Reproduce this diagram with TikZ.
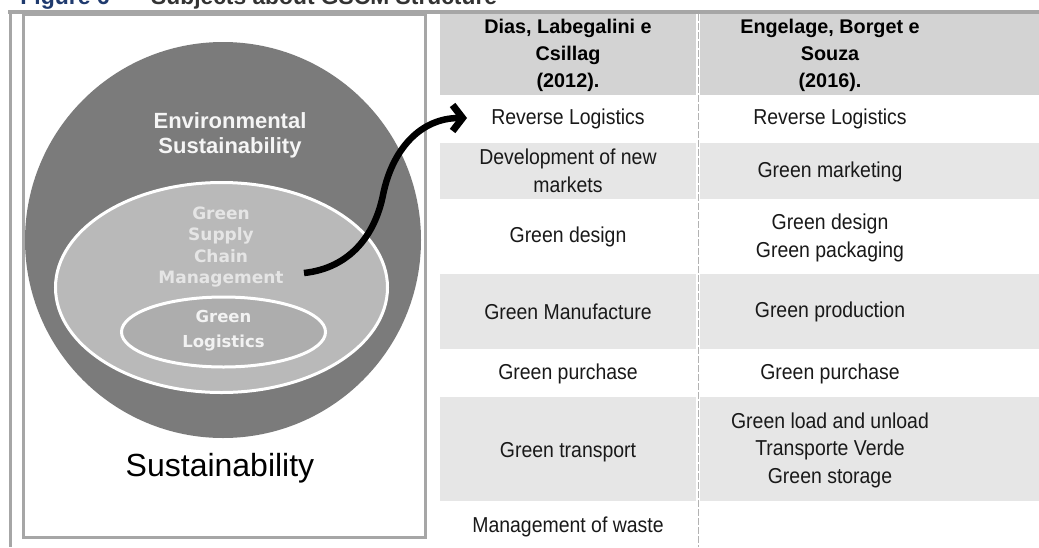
\documentclass[tikz,border=0pt]{standalone}
\usepackage{fontspec}
\setmainfont{Liberation Sans}
\newfontfamily\djv{DejaVu Sans}
\newfontfamily\cellfont[FakeStretch=0.9]{Liberation Sans}
\usetikzlibrary{shapes.geometric,arrows.meta}
\definecolor{framegray}{HTML}{A6A6A6}
\definecolor{darkc}{HTML}{7B7B7B}
\definecolor{midc}{HTML}{B9B9B9}
\definecolor{innerc}{HTML}{ADADAD}
\definecolor{headgray}{HTML}{D3D3D3}
\definecolor{rowgray}{HTML}{E6E6E6}
\definecolor{titleblue}{HTML}{1F3A6E}
\definecolor{titlegray}{HTML}{333333}
\tikzset{
  cell/.style={align=center, inner sep=0pt, font=\cellfont\fontsize{21.6}{27.5}\selectfont, text=black!90},
  headtxt/.style={align=center, inner sep=0pt, text=black, font=\bfseries\fontsize{19.8}{27}\selectfont},
  frameline/.style={draw=framegray, line width=3pt},
  ring/.style={ellipse, draw=white, line width=3pt, inner sep=0pt},
}
\begin{document}
\begin{tikzpicture}[x=1pt,y=-1pt]
\useasboundingbox (0,0) rectangle (1039,547);
% title (cut off at top)
\node[anchor=base east, inner sep=0pt, text=titleblue, font=\bfseries\fontsize{23}{26}\selectfont] (tfig) at (110,4) {Figure 6};
\node[anchor=base west, inner sep=0pt, text=titlegray, font=\bfseries\fontsize{22.8}{26}\selectfont] (tsub) at (132,4) {– Subjects about GSCM Structure};
% table backgrounds
\fill[headgray] (440,14) rectangle (696,95);
\fill[headgray] (700,14) rectangle (1039,95);
\fill[rowgray] (440,143) rectangle (696,199);
\fill[rowgray] (700,143) rectangle (1039,199);
\fill[rowgray] (440,274) rectangle (696,349);
\fill[rowgray] (700,274) rectangle (1039,349);
\fill[rowgray] (440,397) rectangle (696,501);
\fill[rowgray] (700,397) rectangle (1039,501);
\draw[draw=black!30, line width=0.8pt, dash pattern=on 7pt off 2pt] (698,14) -- (698,547);
% frames
\draw[frameline, line width=4pt] (8,12) -- (1039,12);
\draw[frameline] (10,12) -- (10,547);
\draw[frameline] (23,14) rectangle (425,537);
% circles
\node[ellipse, fill=darkc, minimum width=396pt, minimum height=396pt, inner sep=0pt] (sust) at (223,240) {};
\node[ring, fill=midc, minimum width=332pt, minimum height=210pt] (gscm) at (221.5,287.5) {};
\node[ring, fill=innerc, minimum width=204pt, minimum height=70pt] (gl) at (223.5,332) {};
\node[align=center, inner sep=0pt, text=white!96!black, font=\bfseries\fontsize{22}{25}\selectfont] (envt) at (230,135) {Environmental\\Sustainability};
\node[align=center, inner sep=0pt, text=white!90!black, font=\djv\bfseries\fontsize{17}{21.3}\selectfont] (gscmt) at (221,247) {Green\\Supply\\Chain\\Management};
\node[align=center, inner sep=0pt, text=white!95!black, font=\djv\bfseries\fontsize{16.5}{25}\selectfont] (glt) at (223.5,331) {Green\\Logistics};
\node[inner sep=0pt, text=black, font=\fontsize{32}{36}\selectfont] (sustt) at (220,468) {Sustainability};
% header text
\node[headtxt] (h1) at (568,55) {Dias, Labegalini e\\Csillag\\(2012).};
\node[headtxt] (h2) at (830,55) {Engelage, Borget e\\Souza\\(2016).};
% column 1
\node[cell] (a1) at (568,119) {Reverse Logistics};
\node[cell] (a2) at (568,171) {Development of new\\markets};
\node[cell] (a3) at (568,237) {Green design};
\node[cell] (a4) at (568,312) {Green Manufacture};
\node[cell] (a5) at (568,374) {Green purchase};
\node[cell] (a6) at (568,452) {Green transport};
\node[cell] (a7) at (568,527) {Management of waste};
% column 2
\node[cell] (b1) at (830,119) {Reverse Logistics};
\node[cell] (b2) at (830,172) {Green marketing};
\node[cell] (b3) at (830,238) {Green design\\Green packaging};
\node[cell] (b4) at (830,312) {Green production};
\node[cell] (b5) at (830,374) {Green purchase};
\node[cell] (b6) at (830,450) {Green load and unload\\Transporte Verde\\Green storage};
% arrow
\coordinate (astart) at (304,273);
\coordinate (aend) at (467,118);
\draw[line width=6.5pt, -{Straight Barb[length=10pt,width=26pt,line width=7pt]}] (astart) .. controls (350,268) and (375,235) .. (383,195) .. controls (392,150) and (420,118) .. (aend);
\end{tikzpicture}
\end{document}
